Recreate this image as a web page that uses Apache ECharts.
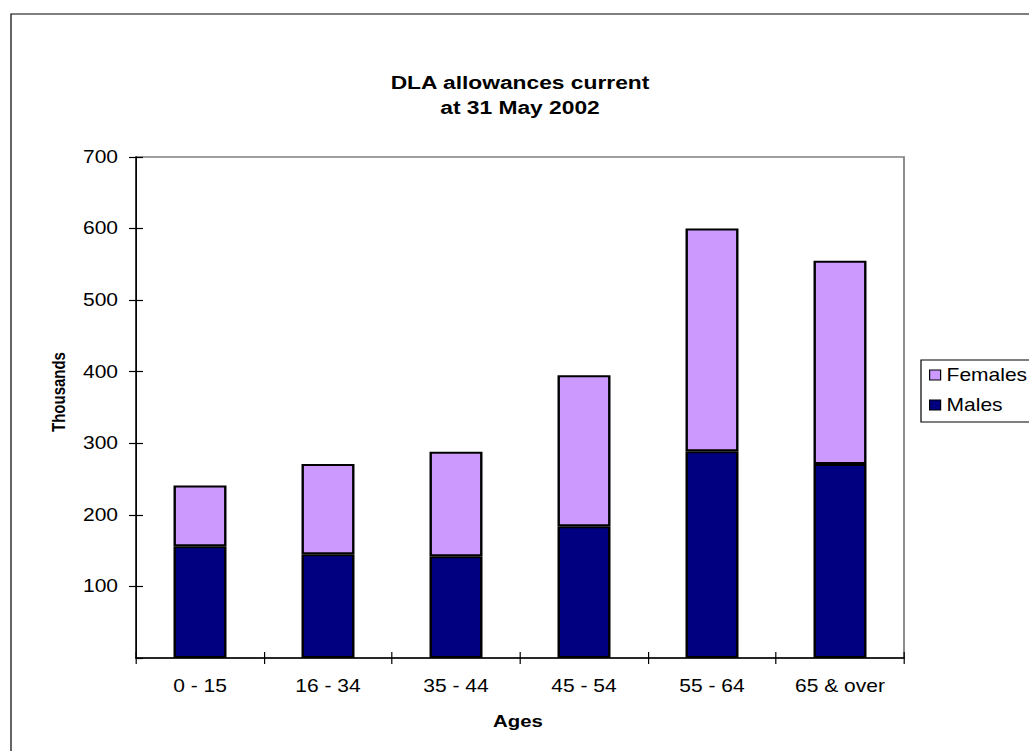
<!DOCTYPE html>
<html>
<head>
<meta charset="utf-8">
<script src="https://cdn.jsdelivr.net/npm/echarts@6/dist/echarts.min.js"></script>
<style>
html,body{margin:0;padding:0;background:#fff;overflow:hidden;width:1029px;height:751px;}
#wrap{position:absolute;left:0;top:0;width:1029px;height:751px;overflow:hidden;}
#chart{position:absolute;left:0;top:0;width:857.5px;height:751px;transform:scaleX(1.2);transform-origin:0 0;}
</style>
</head>
<body>
<div id="wrap"><div id="chart"></div></div>
<script>
// Data
const categories = ['0 - 15', '16 - 34', '35 - 44', '45 - 54', '55 - 64', '65 & over'];
const males = [156, 145, 142, 184, 289, 271];
const females = [85, 126, 146, 211, 311, 284];
const titleText = 'DLA allowances current\nat 31 May 2002';
const yName = 'Thousands';
const xName = 'Ages';

const S = 1.2; // horizontal stretch of the reference picture
const X = v => v / S;
const FONT = 'Liberation Sans, Arial, sans-serif';

const chart = echarts.init(document.getElementById('chart'), null, {renderer: 'svg'});
const gridLeft = X(136), gridRight = X(904);
const option = {
  backgroundColor: '#ffffff',
  animation: false,
  title: {
    text: titleText,
    left: X(520),
    textAlign: 'center',
    top: 69.5,
    padding: 0,
    textStyle: {fontFamily: FONT, fontWeight: 'bold', fontSize: 19, lineHeight: 25, color: '#000'}
  },
  legend: {
    data: ['Females', 'Males'],
    orient: 'vertical',
    left: X(921),
    top: 360,
    icon: 'rect',
    itemWidth: X(11),
    itemHeight: 10,
    itemGap: 12,
    padding: [6, 30, 8, X(8)],
    borderColor: '#000',
    borderWidth: 1,
    itemStyle: {borderColor: '#000', borderWidth: 1},
    textStyle: {fontFamily: FONT, fontSize: 17.5, lineHeight: 18, color: '#000'}
  },
  grid: {
    left: gridLeft,
    width: gridRight - gridLeft,
    top: 157,
    height: 501,
    show: true,
    borderColor: '#808080',
    borderWidth: 1.5,
    backgroundColor: '#fff'
  },
  xAxis: [{
    type: 'category',
    data: categories,
    axisLine: {lineStyle: {color: '#000', width: 1.5}},
    axisTick: {show: true, length: 6, lineStyle: {color: '#000', width: 1}},
    axisLabel: {fontFamily: FONT, fontSize: 17.5, color: '#000', margin: 19.5, interval: 0}
  }, {
    type: 'category',
    data: categories,
    position: 'bottom',
    axisLine: {show: false},
    axisTick: {show: true, inside: true, length: 6, lineStyle: {color: '#000', width: 1}},
    axisLabel: {show: false}
  }],
  yAxis: [{
    type: 'value',
    min: 0, max: 700, interval: 100,
    axisLine: {show: true, lineStyle: {color: '#000', width: 1.3}},
    axisTick: {show: true, length: X(7), lineStyle: {color: '#000', width: 1.2}},
    axisLabel: {fontFamily: FONT, fontSize: 17.5, color: '#000', margin: X(18), showMinLabel: false},
    splitLine: {show: false}
  }, {
    type: 'value',
    min: 0, max: 700, interval: 100,
    position: 'left',
    axisLine: {show: false},
    axisTick: {show: true, inside: true, length: X(7), lineStyle: {color: '#000', width: 1.2}},
    axisLabel: {show: false},
    splitLine: {show: false}
  }],
  graphic: [
    {type: 'rect', shape: {x: X(11), y: 14, width: 1000, height: 900}, style: {fill: 'none', stroke: '#000', lineWidth: 1}, z: 100, silent: true},
    {type: 'text', x: X(59), y: 392, rotation: Math.PI / 2,
     style: {text: yName, font: 'bold 15px ' + FONT, fill: '#000', textAlign: 'center', textVerticalAlign: 'middle'}},
    {type: 'text', x: X(518), y: 721,
     style: {text: xName, font: 'bold 17px ' + FONT, fill: '#000', textAlign: 'center', textVerticalAlign: 'middle'}}
  ],
  series: [{
    name: 'Males', type: 'bar', stack: 'total', data: males, barWidth: '41.4%',
    itemStyle: {color: '#000080', borderColor: '#000', borderWidth: 2}
  }, {
    name: 'Females', type: 'bar', stack: 'total', data: females, barWidth: '41.4%',
    itemStyle: {color: '#CC99FF', borderColor: '#000', borderWidth: 2}
  }]
};
chart.setOption(option);
</script>
</body>
</html>
